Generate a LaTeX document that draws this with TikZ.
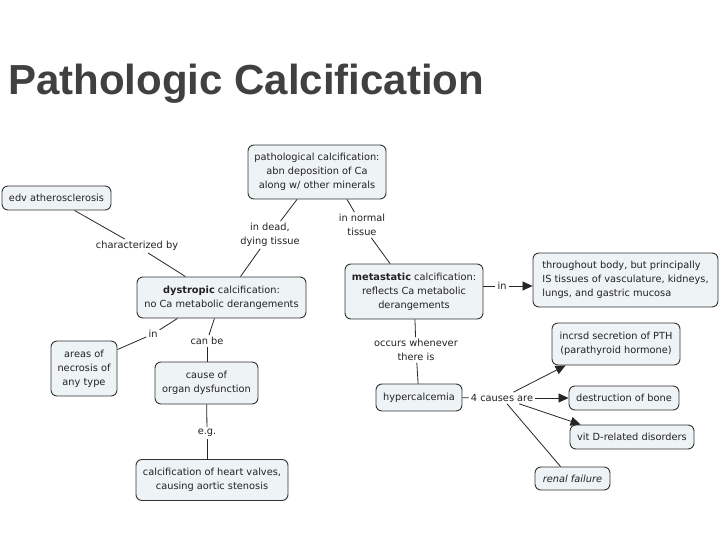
\documentclass[tikz,border=0pt]{standalone}
\usepackage{fontspec}
\setmainfont{DejaVu Sans}
\newfontfamily\titlefont{Liberation Sans}
\usetikzlibrary{arrows.meta}
\definecolor{boxfill}{HTML}{EEF3F6}
\definecolor{txt}{HTML}{222222}
\definecolor{titlecol}{HTML}{404040}
\tikzset{
  box/.style={draw=black!80, fill=boxfill, rounded corners=6pt, line width=0.9pt,
    align=center, inner sep=0pt, text=txt, font=\fontsize{9.8}{13.8}\selectfont},
  lbl/.style={align=center, inner sep=2pt, text=txt, font=\fontsize{9.8}{13.8}\selectfont},
  conn/.style={draw=black!85, line width=0.8pt},
  arr/.style={conn, -{Triangle[length=10pt,width=9pt]}}
}
\begin{document}
\begin{tikzpicture}[x=1pt,y=-1pt]
\fill[white] (0,0) rectangle (720,540);
\useasboundingbox (0,0) rectangle (720,540);
\node[anchor=base west, inner sep=0pt, text=titlecol,
  font=\titlefont\bfseries\fontsize{42}{46}\selectfont] (title) at (8,95) {Pathologic Calcification};

% boxes
\node[box, minimum width=138pt, minimum height=54pt] (p) at (317,172)
  {pathological calcification:\\abn deposition of Ca\\along w/ other minerals};
\node[box, minimum width=109pt, minimum height=24pt] (edv) at (56.5,198) {edv atherosclerosis};
\node[box, minimum width=169pt, minimum height=41pt] (dys) at (221.5,297.5)
  {\textbf{dystropic} calcification:\\no Ca metabolic derangements};
\node[box, minimum width=138pt, minimum height=55pt] (met) at (414,291.5)
  {\textbf{metastatic} calcification:\\reflects Ca metabolic\\derangements};
\node[box, align=left, minimum width=185pt, minimum height=54pt] (thr) at (625.5,280)
  {throughout body, but principally\\IS tissues of vasculature, kidneys,\\lungs, and gastric mucosa};
\node[box, minimum width=66pt, minimum height=55pt] (areas) at (84,368.5)
  {areas of\\necrosis of\\any type};
\node[box, minimum width=103pt, minimum height=42pt] (cause) at (206.5,383)
  {cause of\\organ dysfunction};
\node[box, minimum width=152pt, minimum height=41pt] (heart) at (212,480)
  {calcification of heart valves,\\causing aortic stenosis};
\node[box, minimum width=86pt, minimum height=27pt] (hyper) at (419,397.5) {hypercalcemia};
\node[box, minimum width=128pt, minimum height=42pt] (incrsd) at (616,344)
  {incrsd secretion of PTH\\(parathyroid hormone)};
\node[box, minimum width=110pt, minimum height=24pt] (destr) at (624,398) {destruction of bone};
\node[box, minimum width=124pt, minimum height=24pt] (vitd) at (632,437) {vit D-related disorders};
\node[box, minimum width=75pt, minimum height=23pt] (renal) at (572.5,478.5) {\itshape renal failure};

% linking phrases
\node[lbl] (char) at (137,246) {characterized by};
\node[lbl] (dead) at (270,235) {in dead,\\dying tissue};
\node[lbl] (normal) at (362,225) {in normal\\tissue};
\node[lbl] (inm) at (502,286) {in};
\node[lbl] (in1) at (153,334) {in};
\node[lbl] (canbe) at (207,341) {can be};
\node[lbl] (eg) at (207,433) {e.g.};
\node[lbl] (occ) at (416,350) {occurs whenever\\there is};
\node[lbl] (c4) at (502,398) {4 causes are};

% connectors
\draw[conn] ([xshift=-20pt]p.south) -- (dead);
\draw[conn] (dead) -- ([xshift=19pt]dys.north);
\draw[conn] ([xshift=30pt]p.south) -- (normal);
\draw[conn] (normal) -- ([xshift=-24pt]met.north);
\draw[conn] ([xshift=18pt]edv.south) -- (char);
\draw[conn] (char) -- ([xshift=-36pt]dys.north);
\draw[conn] ([xshift=-44pt]dys.south) -- (in1);
\draw[conn] (in1) -- ([yshift=-9pt]areas.north east);
\draw[conn] ([xshift=-7pt]dys.south) -- (canbe);
\draw[conn] (canbe) -- (canbe |- cause.north);
\draw[conn] (cause) -- (eg);
\draw[conn] (eg) -- (eg |- heart.north);
\draw[conn] (met.east |- inm) -- (inm);
\draw[arr] (inm) -- (inm -| thr.west);
\draw[conn] (met) -- (occ);
\draw[conn] (occ) -- (hyper);
\draw[conn] (hyper) -- (c4);
\draw[arr] (c4) -- ([xshift=14pt]incrsd.south west);
\draw[arr] (c4) -- (destr);
\draw[arr] (c4) -- ([xshift=11pt]vitd.north west);
\draw[conn] (c4) -- ([xshift=26pt]renal.north west);
\end{tikzpicture}
\end{document}
